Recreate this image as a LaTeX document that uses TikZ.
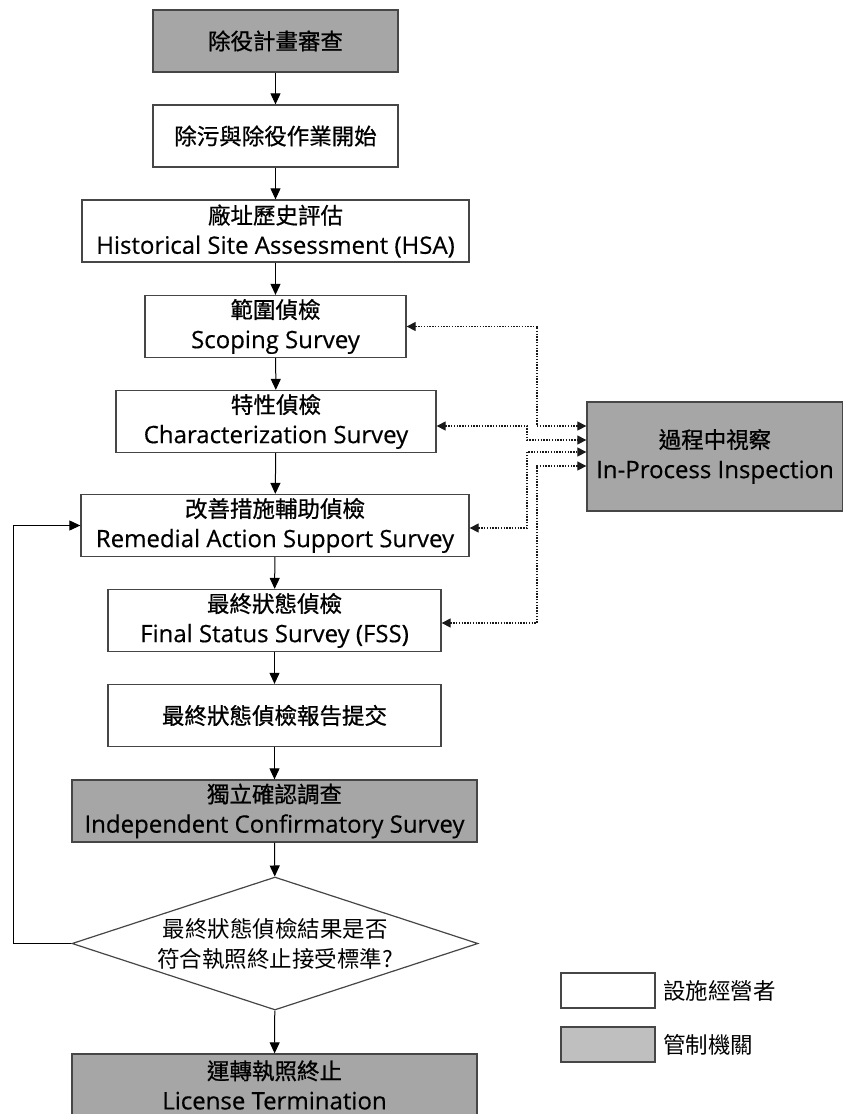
\documentclass[tikz,border=0pt]{standalone}
\usepackage{fontspec}
\setmainfont{Open Sans}[FakeBold=0.4]
\newfontfamily\cjk{Noto Sans CJK TC}
\newfontfamily\cjkb{Noto Sans CJK TC}[FakeBold=0.8]
\newcommand{\zh}[1]{{\cjkb\fontsize{22.5}{30}\selectfont #1}}
\usetikzlibrary{arrows.meta,shapes.geometric}
\definecolor{regfill}{RGB}{166,166,166}
\definecolor{legfill}{RGB}{191,191,191}
\definecolor{edge}{RGB}{70,70,70}
\begin{document}
\begin{tikzpicture}[x=1pt,y=-1pt,
  box/.style={draw=edge, line width=1.3pt, minimum height=62pt, inner sep=0pt, align=center,
    font=\fontsize{24}{30}\selectfont},
  opbox/.style={box, fill=white},
  regbox/.style={box, fill=regfill},
  arr/.style={draw=black, line width=1pt, -{Triangle[length=11pt,width=10pt]}},
  dotarr/.style={draw=black!90, line width=1.2pt, dash pattern=on 1.4pt off 1.4pt,
    {Triangle[length=9pt,width=9pt]}-{Triangle[length=9pt,width=9pt]}},
  dia/.style={diamond, draw=edge, line width=1.2pt, fill=white, inner sep=0pt, aspect=3.05,
    minimum width=406pt, minimum height=133pt, align=center, font=\fontsize{22.5}{30}\selectfont\cjk},
  legbox/.style={draw=edge, line width=1.2pt, minimum width=94pt, minimum height=35pt, inner sep=0pt},
  legtext/.style={anchor=west, inner sep=0pt, font=\fontsize{22.5}{26}\selectfont\cjk}
]
\useasboundingbox (0,0) rectangle (843,1114);
\fill[white] (0,0) rectangle (843,1114);

\node[regbox, minimum width=245pt] (n1) at (275.5,41) {\zh{除役計畫審查}};
\node[opbox, minimum width=245pt] (n2) at (275.5,136) {\zh{除污與除役作業開始}};
\node[opbox, minimum width=387pt] (n3) at (275.5,231) {\zh{廠址歷史評估}\\Historical Site Assessment (HSA)};
\node[opbox, minimum width=261pt] (n4) at (275.5,326.5) {\zh{範圍偵檢}\\Scoping Survey};
\node[opbox, minimum width=320pt] (n5) at (276,421.5) {\zh{特性偵檢}\\Characterization Survey};
\node[opbox, minimum width=388pt] (n6) at (275,525.5) {\zh{改善措施輔助偵檢}\\Remedial Action Support Survey};
\node[opbox, minimum width=333pt] (n7) at (274.5,620.5) {\zh{最終狀態偵檢}\\Final Status Survey (FSS)};
\node[opbox, minimum width=333pt] (n8) at (274.5,715.5) {\zh{最終狀態偵檢報告提交}};
\node[regbox, minimum width=405pt] (n9) at (274.5,811) {\zh{獨立確認調查}\\Independent Confirmatory Survey};
\node[dia] (d) at (275,943.5) {最終狀態偵檢結果是否\\符合執照終止接受標準?};
\node[regbox, minimum width=405pt] (n10) at (274.5,1085) {\zh{運轉執照終止}\\License Termination};

\node[regbox, minimum width=256pt, minimum height=109pt] (insp) at (715,456.5) {\zh{過程中視察}\\In-Process Inspection};

\draw[arr] (n1) -- (n2);
\draw[arr] (n2) -- (n3);
\draw[arr] (n3) -- (n4);
\draw[arr] (n4) -- (n5);
\draw[arr] (n5) -- (n6);
\draw[arr] (n6) -- (n7);
\draw[arr] (n7) -- (n8);
\draw[arr] (n8) -- (n9);
\draw[arr] (n9) -- (d);
\draw[arr] (d) -- (n10);
\draw[arr] (d.west) -| (13,525.5) -- (n6.west);

\draw[dotarr] (n4.east) -| (537,426) -- (insp.west |- 0,426);
\draw[dotarr] (n5.east |- 0,426) -- (527,426) |- (insp.west |- 0,440);
\draw[dotarr] (n6.east |- 0,528) -| (527,452) -- (insp.west |- 0,452);
\draw[dotarr] (n7.east |- 0,623) -| (537,466) -- (insp.west |- 0,466);

\node[legbox, fill=white] (l1) at (608,990.5) {};
\node[legtext] (t1) at (663,990.5) {設施經營者};
\node[legbox, fill=legfill] (l2) at (608,1044.5) {};
\node[legtext] (t2) at (663,1044.5) {管制機關};
\end{tikzpicture}
\end{document}
